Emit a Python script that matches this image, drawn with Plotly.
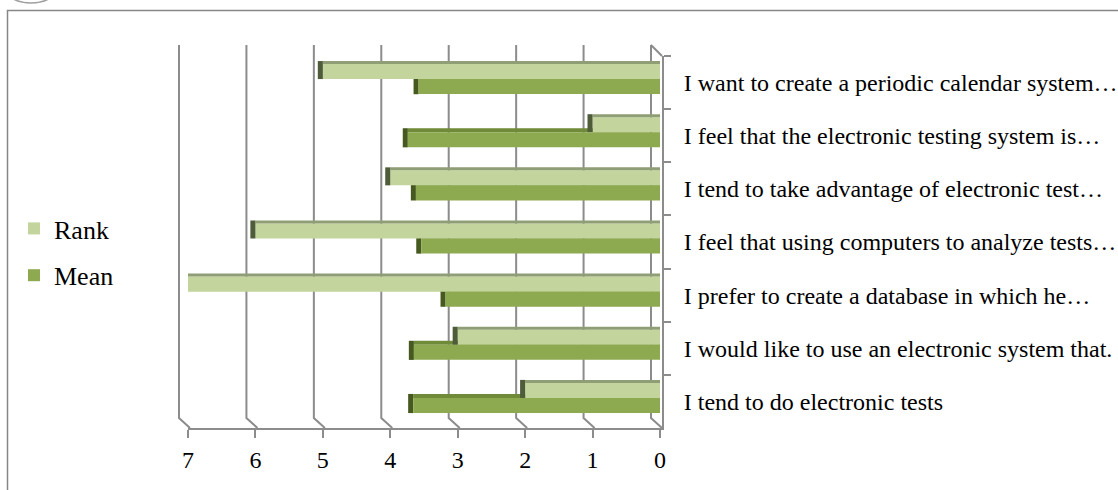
import plotly.graph_objects as go

# ---------------- data ----------------
categories = [
    "I want to create a periodic calendar system…",
    "I feel that the electronic testing system is…",
    "I tend to take advantage of electronic test…",
    "I feel that using computers to analyze tests…",
    "I prefer to create a database in which he…",
    "I would like to use an electronic system that.",
    "I tend to do electronic tests",
]
rank_values = [5, 1, 4, 6, 7, 3, 2]
mean_values = [3.58, 3.74, 3.62, 3.54, 3.18, 3.65, 3.66]
x_ticks = [0, 1, 2, 3, 4, 5, 6, 7]

# ---------------- styles ----------------
W, H = 1118, 490
FONT = "Liberation Serif, Times New Roman, serif"
GRID = "#8c8c8c"
RANK_FACE, RANK_TOP, RANK_CAP = "#C3D59C", "#8F9E75", "#4F5C3A"
MEAN_FACE, MEAN_TOP, MEAN_CAP = "#8EAA50", "#6F8A38", "#46591F"
CAP = 0.075  # thickness of the 3-D end cap, in axis units

def fx(p):
    return p / W

def fy(p):
    return 1 - p / H

S = (660 - 188) / 7.0  # px per unit

def front_px(v):
    return 660 - v * S

def back_px(v):
    return 651 - v * S

front_range = [7, -(662 - 660) / S]

n = len(categories)
fig = go.Figure()

def helper(x, offset, width, color, base=None):
    fig.add_trace(go.Bar(
        y=categories, x=x, base=base, orientation="h", offset=offset,
        width=width, marker=dict(color=color, line=dict(width=0)),
        showlegend=False, hoverinfo="skip",
    ))

# Mean bar top face (only visible where it passes the Rank bar) and end cap
helper(mean_values, -0.141, 0.076, MEAN_TOP)
helper([CAP] * n, -0.141, 0.36, MEAN_CAP, base=mean_values)

# Rank bar
fig.add_trace(go.Bar(
    name="Rank", y=categories, x=rank_values, orientation="h",
    marker=dict(color=RANK_FACE, line=dict(width=0)),
    width=0.283, offset=-0.349, legendgroup="rank",
))
helper(rank_values, -0.405, 0.056, RANK_TOP)
helper([CAP] * n, -0.405, 0.339, RANK_CAP, base=rank_values)

# Mean bar
fig.add_trace(go.Bar(
    name="Mean", y=categories, x=mean_values, orientation="h",
    marker=dict(color=MEAN_FACE, line=dict(width=0)),
    width=0.283, offset=-0.066, legendgroup="mean",
))

shapes = []
for v in x_ticks:
    shapes.append(dict(type="path", xref="paper", yref="paper", layer="below",
                       path="M{:.5f},{:.5f} L{:.5f},{:.5f} L{:.5f},{:.5f}".format(
                           fx(back_px(v)), fy(45), fx(back_px(v)), fy(418),
                           fx(front_px(v) + 2), fy(428)),
                       line=dict(color=GRID, width=2)))
shapes.append(dict(type="line", xref="paper", yref="paper",
                   x0=fx(651), y0=fy(45), x1=fx(662), y1=fy(56),
                   line=dict(color=GRID, width=2)))
shapes.append(dict(type="rect", xref="paper", yref="paper",
                   x0=fx(7.5), y0=-0.05, x1=1.05, y1=fy(10.5),
                   line=dict(color="#878787", width=1.5)))
shapes.append(dict(type="circle", xref="paper", yref="paper",
                   x0=fx(4), y0=fy(3), x1=fx(58), y1=fy(-30),
                   line=dict(color="#a0a0a0", width=1.5)))

fig.update_layout(
    width=W, height=H, autosize=False,
    margin=dict(l=0, r=0, t=0, b=0),
    paper_bgcolor="white",
    plot_bgcolor="rgba(0,0,0,0)",
    font=dict(family=FONT, size=24, color="black"),
    showlegend=True,
    legend=dict(
        x=fx(14), y=fy(205), xanchor="left", yanchor="top",
        font=dict(family=FONT, size=26, color="black"),
        tracegroupgap=10, traceorder="grouped",
        bgcolor="rgba(0,0,0,0)",
    ),
    xaxis=dict(
        domain=[fx(188), fx(662)], range=front_range, automargin=False,
        anchor="y", tickvals=x_ticks, ticktext=[str(t) for t in x_ticks],
        showgrid=False, zeroline=False, showline=True, linecolor=GRID,
        linewidth=2, ticks="outside", ticklen=8, tickwidth=2,
        tickcolor=GRID, tickfont=dict(family=FONT, size=24, color="black"),
        ticklabelstandoff=1,
    ),
    yaxis=dict(
        domain=[fy(428), fy(56)], type="category", autorange="reversed",
        automargin=False, anchor="x", side="right", showgrid=False,
        zeroline=False, showline=True, linecolor=GRID, linewidth=2,
        ticks="outside", tickson="boundaries", ticklen=7, tickwidth=2,
        tickcolor=GRID, tickfont=dict(family=FONT, size=24, color="black"),
        ticklabelstandoff=15,
    ),
    shapes=shapes,
)

fig.write_html(
    "out.html",
    config={"displayModeBar": False, "responsive": False},
    post_script="document.body.style.margin='0px';document.body.style.overflow='hidden';",
)
